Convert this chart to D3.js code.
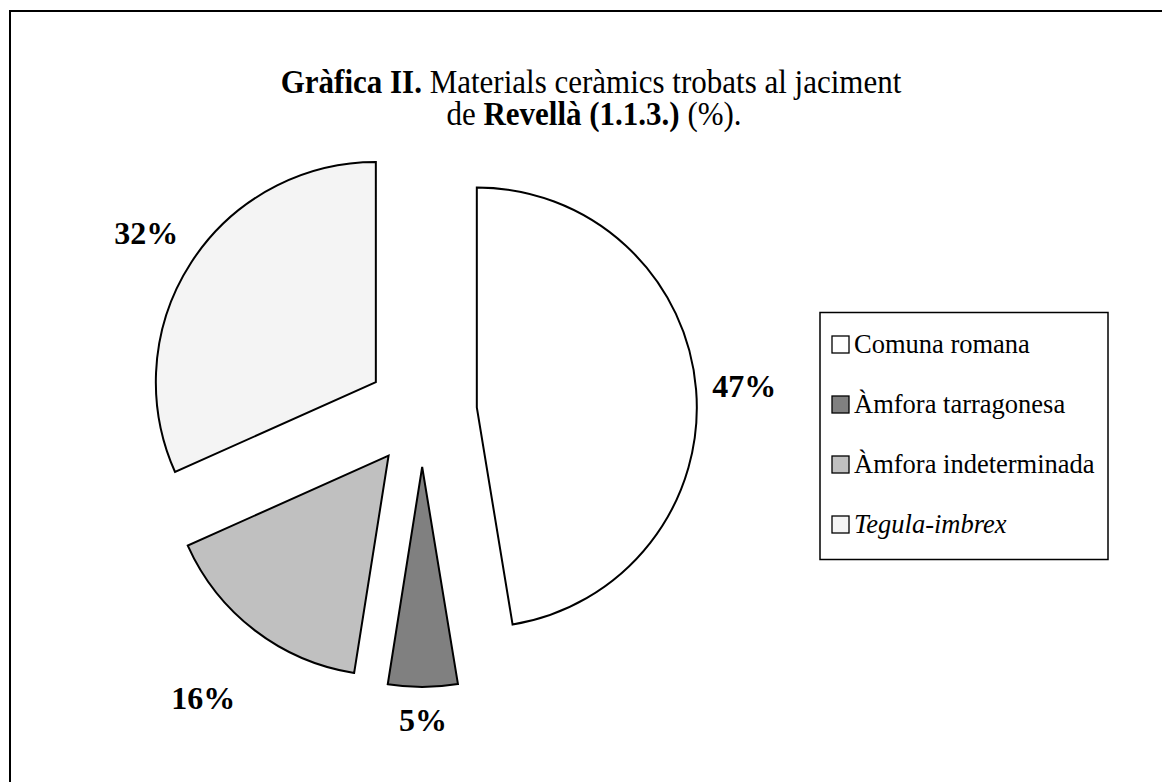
<!DOCTYPE html>
<html>
<head>
<meta charset="utf-8">
<script src="https://cdn.jsdelivr.net/npm/d3@7"></script>
<style>
  html, body { margin: 0; padding: 0; background: #fff; }
  svg { display: block; }
  text { font-family: "Liberation Serif", "Times New Roman", serif; fill: #000; }
</style>
</head>
<body>
<svg id="chart" width="1162" height="782"></svg>
<script>
// ---- data ----
const categories = ["Comuna romana", "Àmfora tarragonesa", "Àmfora indeterminada", "Tegula-imbrex"];
const values = [47.4, 5.1, 15.8, 31.7];
const colors = ["#ffffff", "#808080", "#c0c0c0", "#f4f4f4"];
const italicLegend = [false, false, false, true];
// extra outward distance of each data label (layout only)
const labelExtra = [0, 0, 36, 2];

// ---- layout ----
const cx = 422, cy = 412, R = 220, explode = 55;

const svg = d3.select("#chart");

// outer frame (right & bottom edges fall outside the picture)
svg.append("rect")
  .attr("x", 10).attr("y", 11)
  .attr("width", 1250).attr("height", 850)
  .attr("fill", "none").attr("stroke", "#000").attr("stroke-width", 2);

// title (slightly tall, narrow rendering as in the source)
const sy = 1.12;
const tg = svg.append("g").attr("transform", `translate(591,0) scale(1,${sy})`);
const t1 = tg.append("text").attr("text-anchor", "middle").attr("x", 0).attr("y", 93 / sy)
  .style("font-size", "31px");
t1.append("tspan").style("font-weight", "bold").text("Gràfica II.");
t1.append("tspan").text(" Materials ceràmics trobats al jaciment");
const t2 = tg.append("text").attr("text-anchor", "middle").attr("x", 3).attr("y", 125 / sy)
  .style("font-size", "31px");
t2.append("tspan").text("de ");
t2.append("tspan").style("font-weight", "bold").text("Revellà (1.1.3.)");
t2.append("tspan").text(" (%).");

// pie
const pie = d3.pie().sort(null).value(d => d.v).startAngle(0).endAngle(2 * Math.PI);
const data = pie(values.map((v, i) => ({ v, i })));
const arc = d3.arc().innerRadius(0).outerRadius(R);
const pct = d3.format(".0f");

const g = svg.append("g").attr("transform", `translate(${cx},${cy})`);

const slices = g.selectAll("g.slice").data(data).join("g")
  .attr("class", "slice")
  .attr("transform", d => {
    const a = (d.startAngle + d.endAngle) / 2;
    return `translate(${Math.sin(a) * explode},${-Math.cos(a) * explode})`;
  });

slices.append("path")
  .attr("d", arc)
  .attr("fill", d => colors[d.data.i])
  .attr("stroke", "#000")
  .attr("stroke-width", 2)
  .attr("stroke-linejoin", "miter");

// labels
const labelFont = 32;
g.selectAll("text.lbl").data(data).join("text")
  .attr("class", "lbl")
  .attr("text-anchor", "middle")
  .attr("dominant-baseline", "central")
  .style("font-size", labelFont + "px")
  .style("font-weight", "bold")
  .text(d => pct(d.data.v) + "%")
  .each(function (d) {
    const a = (d.startAngle + d.endAngle) / 2;
    const ux = Math.sin(a), uy = -Math.cos(a);
    const bb = this.getBBox();
    const support = Math.abs(ux) * bb.width / 2 + Math.abs(uy) * bb.height / 2;
    const dist = R + explode + 15 + support + labelExtra[d.data.i];
    d3.select(this).attr("x", ux * dist).attr("y", uy * dist);
  });

// legend
const lg = svg.append("g");
lg.append("rect")
  .attr("x", 820).attr("y", 312.5)
  .attr("width", 288).attr("height", 247)
  .attr("fill", "#fff").attr("stroke", "#000").attr("stroke-width", 1.5);

const rowY = d3.scalePoint().domain(d3.range(categories.length)).range([353, 533]);

const items = lg.selectAll("g.item").data(categories).join("g")
  .attr("class", "item")
  .attr("transform", (d, i) => `translate(0,${rowY(i)})`);

items.append("rect")
  .attr("x", 832).attr("y", -17)
  .attr("width", 17).attr("height", 17)
  .attr("fill", (d, i) => colors[i])
  .attr("stroke", "#000").attr("stroke-width", 1.3);

items.append("text")
  .attr("x", 854).attr("y", 0)
  .style("font-size", "26.5px")
  .style("font-style", (d, i) => italicLegend[i] ? "italic" : "normal")
  .text(d => d);
</script>
</body>
</html>
